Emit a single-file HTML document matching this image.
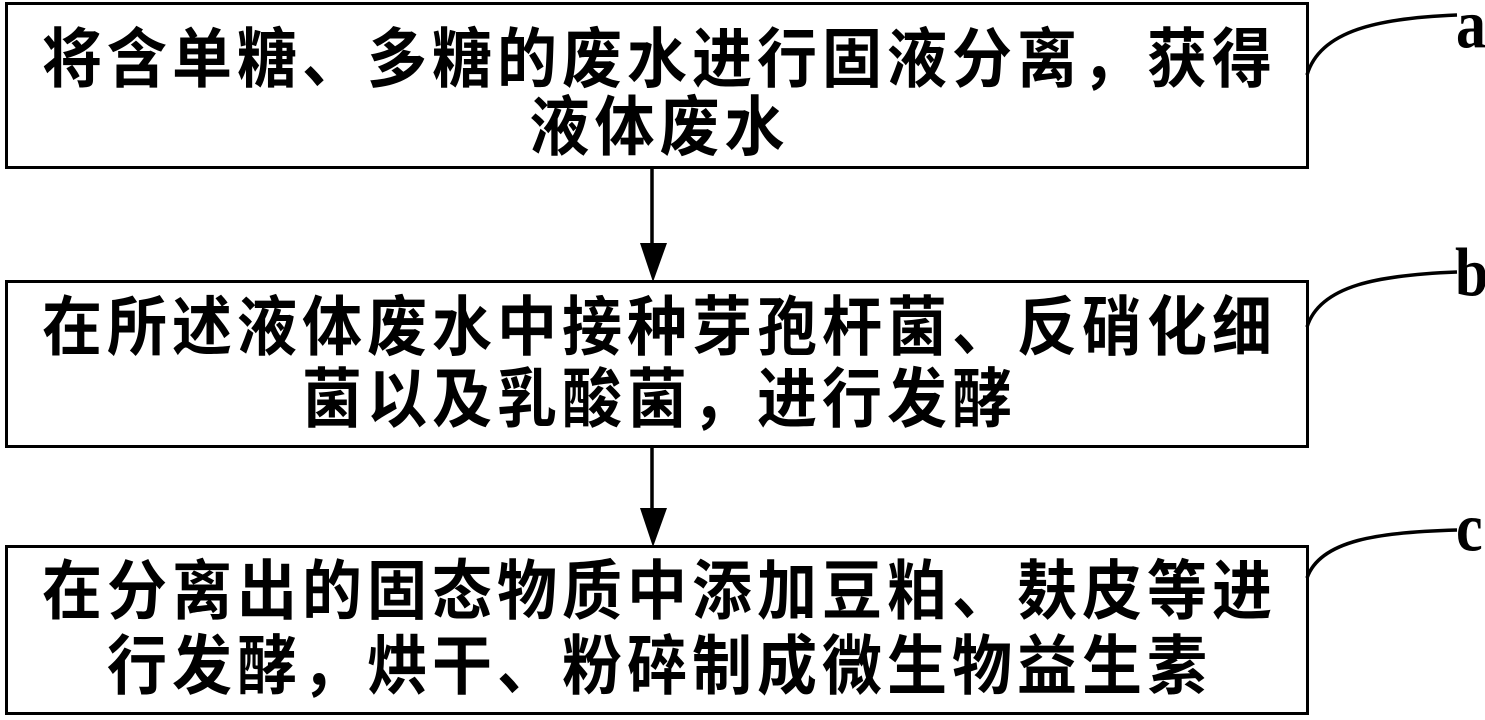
<!DOCTYPE html>
<html><head><meta charset="utf-8"><style>
html,body{margin:0;padding:0;background:#fff;width:1485px;height:720px;overflow:hidden;position:relative}
.box{position:absolute;left:5px;width:1298px;border:3px solid #000;}
.ln{position:absolute;left:5px;width:1304px;text-align:center;font-family:"Liberation Sans","Noto Sans CJK SC","WenQuanYi Zen Hei",sans-serif;font-weight:bold;font-size:60px;line-height:60px;letter-spacing:5px;padding-left:5px;box-sizing:border-box;color:#000;white-space:nowrap;transform:scaleY(1.08);transform-origin:50% 50%}
.lab{position:absolute;font-family:"Liberation Serif",serif;font-weight:bold;font-size:60px;line-height:60px;transform:scaleY(1.15);transform-origin:0 0}
</style></head><body>
<div class="box" style="top:2px;height:161px"></div>
<div class="box" style="top:280px;height:162px"></div>
<div class="box" style="top:545px;height:164px"></div>

<div class="ln" style="top:30px">将含单糖、多糖的废水进行固液分离，获得</div>
<div class="ln" style="top:98px">液体废水</div>
<div class="ln" style="top:298px">在所述液体废水中接种芽孢杆菌、反硝化细</div>
<div class="ln" style="top:370px">菌以及乳酸菌，进行发酵</div>
<div class="ln" style="top:562px">在分离出的固态物质中添加豆粕、麸皮等进</div>
<div class="ln" style="top:637px">行发酵，烘干、粉碎制成微生物益生素</div>

<svg width="1485" height="720" style="position:absolute;left:0;top:0">
<g stroke="#000" stroke-width="3.5" fill="none">
<line x1="652" y1="168" x2="652" y2="250"/>
<line x1="652" y1="447" x2="652" y2="515"/>
<path d="M1307 75 C1320 30 1380 18 1457 15"/>
<path d="M1307 327 C1320 285 1380 275 1457 272"/>
<path d="M1307 578 C1320 540 1380 532 1457 530"/>
</g>
<polygon points="640,243 667,243 653,282" fill="#000"/>
<polygon points="640,508 667,508 653,547" fill="#000"/>
</svg>
<div class="lab" style="left:1456px;top:-10px">a</div>
<div class="lab" style="left:1455px;top:238px">b</div>
<div class="lab" style="left:1456px;top:493px">c</div>
</body></html>
